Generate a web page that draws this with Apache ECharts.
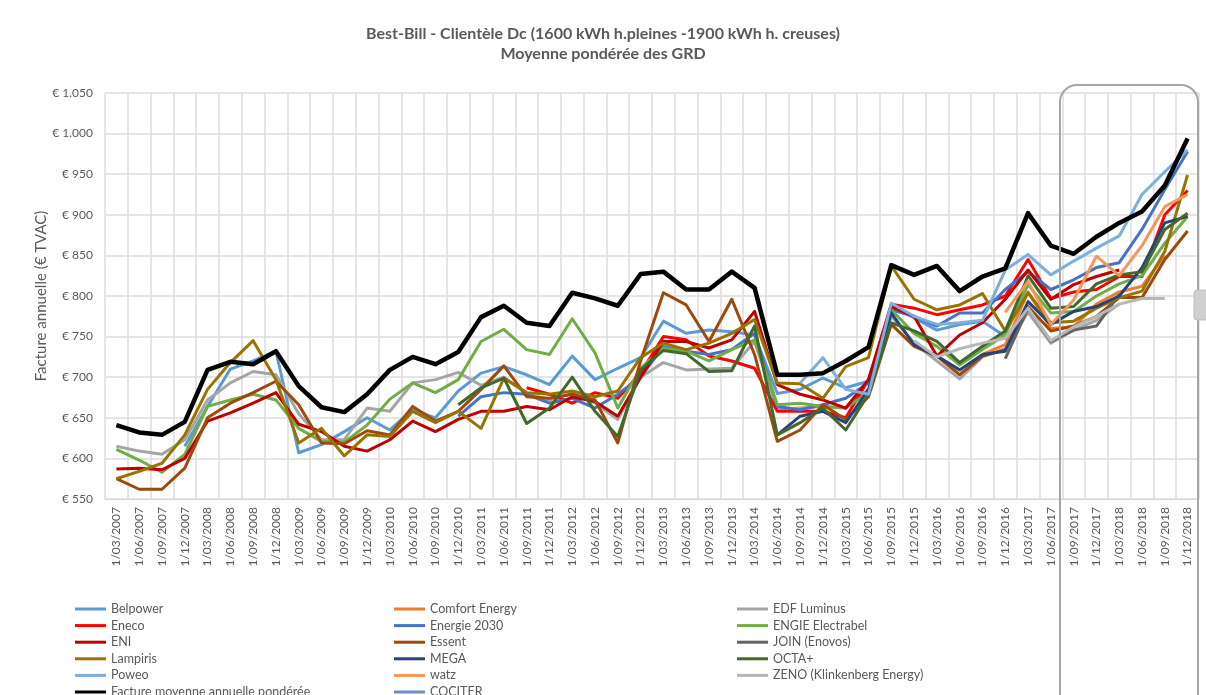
<!DOCTYPE html>
<html>
<head>
<meta charset="utf-8">
<script src="https://cdn.jsdelivr.net/npm/echarts@6/dist/echarts.min.js"></script>
<style>
html,body{margin:0;padding:0;background:#fff;}
#chart{width:1206px;height:695px;}
</style>
</head>
<body>
<div id="chart"></div>
<script>
const N = null;
const categories = [
 '1/03/2007','1/06/2007','1/09/2007','1/12/2007',
 '1/03/2008','1/06/2008','1/09/2008','1/12/2008',
 '1/03/2009','1/06/2009','1/09/2009','1/12/2009',
 '1/03/2010','1/06/2010','1/09/2010','1/12/2010',
 '1/03/2011','1/06/2011','1/09/2011','1/12/2011',
 '1/03/2012','1/06/2012','1/09/2012','1/12/2012',
 '1/03/2013','1/06/2013','1/09/2013','1/12/2013',
 '1/03/2014','1/06/2014','1/09/2014','1/12/2014',
 '1/03/2015','1/06/2015','1/09/2015','1/12/2015',
 '1/03/2016','1/06/2016','1/09/2016','1/12/2016',
 '1/03/2017','1/06/2017','1/09/2017','1/12/2017',
 '1/03/2018','1/06/2018','1/09/2018','1/12/2018'
];
const yTicks = [550, 600, 650, 700, 750, 800, 850, 900, 950, 1000, 1050];

const belpower = [N,N,N,615,664,710,720,732,607,617,633,650,635,660,650,683,705,713,703,691,726,697,711,724,769,754,758,756,752,680,685,699,687,695,789,773,758,765,769,750,N,N,N,N,N,N,N,N];
const comfortEnergy = [N,N,N,N,N,N,N,N,N,N,N,N,N,N,N,N,N,N,N,N,N,N,N,N,N,N,N,N,N,N,N,N,N,N,N,N,N,N,728,740,805,760,762,790,805,812,850,N];
const edfLuminus = [615,609,605,623,672,693,707,703,655,623,623,662,658,693,697,706,690,700,680,672,680,668,648,700,718,709,710,711,744,660,662,664,662,685,775,742,720,698,725,735,780,742,758,770,790,N,N,N];
const eneco = [N,N,N,N,N,N,N,N,N,N,N,N,N,N,N,N,N,N,687,679,668,681,674,705,750,746,726,720,711,658,658,658,650,697,790,785,777,783,789,800,845,797,805,808,824,824,900,930];
const energie2030 = [N,N,N,N,N,N,N,N,N,N,N,N,N,N,N,652,676,681,679,668,674,662,679,700,738,732,728,734,754,664,660,666,674,693,783,775,763,779,779,808,830,808,820,835,841,882,931,978];
const engie = [611,598,583,605,664,672,679,672,637,621,620,641,673,693,681,697,744,759,734,728,772,730,662,711,736,732,720,734,746,666,668,664,662,681,783,754,738,715,734,752,814,779,781,800,815,825,865,898];
const eni = [587,588,586,600,646,656,668,681,642,633,615,609,623,646,633,648,658,658,664,660,676,670,652,700,744,744,736,746,781,691,679,672,662,697,787,775,726,752,767,796,832,796,814,824,832,N,N,N];
const essent = [575,562,562,588,650,668,681,695,666,619,618,634,629,664,646,658,685,714,676,674,679,672,619,720,804,789,744,796,728,621,635,666,648,676,765,738,726,703,726,734,787,757,763,775,798,798,845,880];
const joinEnovos = [N,N,N,N,N,N,N,N,N,N,N,N,N,N,N,N,N,N,N,N,N,N,N,N,N,N,N,N,N,N,N,N,N,N,N,N,N,N,N,723,785,744,758,763,802,N,N,N];
const lampiris = [575,584,594,629,685,718,745,697,619,637,603,629,627,658,644,658,637,699,681,679,683,676,683,724,742,734,742,754,771,693,692,674,713,724,837,796,783,789,803,757,804,767,769,785,798,806,855,949];
const mega = [N,N,N,N,N,N,N,N,N,N,N,N,N,N,N,N,N,N,N,N,N,N,N,N,N,N,N,N,N,629,652,658,644,685,779,740,726,709,728,732,793,765,781,787,800,835,890,898];
const octa = [N,N,N,N,N,N,N,N,N,N,N,N,N,N,N,666,687,699,643,662,700,658,627,709,733,729,707,708,763,629,644,662,635,679,767,757,744,718,738,757,825,785,787,815,826,830,882,902];
const poweo = [N,N,N,N,N,N,N,N,N,N,N,N,N,N,N,N,N,N,N,N,N,N,N,N,N,N,N,N,N,N,693,724,685,679,791,775,765,767,770,832,851,826,843,859,874,925,953,980];
const watz = [N,N,N,N,N,N,N,N,N,N,N,N,N,N,N,N,N,N,N,N,N,N,N,N,N,N,N,N,N,N,N,N,N,N,N,N,N,N,N,780,818,765,795,849,825,862,910,925];
const zeno = [N,N,N,N,N,N,N,N,N,N,N,N,N,N,N,N,N,N,N,N,N,N,N,N,N,N,N,N,N,N,N,N,N,N,N,745,725,735,742,748,785,745,762,775,790,797,797,N];
const facture = [641,632,629,645,709,719,716,732,689,663,657,679,709,725,716,731,774,788,767,763,804,797,788,827,830,808,808,830,810,703,703,705,720,737,838,826,837,806,824,834,902,862,852,873,890,904,936,994];
const cociter = [N,N,N,N,N,N,N,N,N,N,N,N,N,N,N,N,N,N,N,N,N,N,N,N,N,N,N,N,N,N,N,N,N,N,N,N,N,N,N,N,N,N,N,N,N,N,N,N];

const seriesDefs = [
  ['Belpower', belpower, '#5B9BD5', 3],
  ['Comfort Energy', comfortEnergy, '#ED7D31', 3],
  ['EDF Luminus', edfLuminus, '#A5A5A5', 3],
  ['Eneco', eneco, '#FF0000', 3],
  ['Energie 2030', energie2030, '#4472C4', 3],
  ['ENGIE Electrabel', engie, '#70AD47', 3],
  ['ENI', eni, '#C00000', 3],
  ['Essent', essent, '#9E480E', 3],
  ['JOIN (Enovos)', joinEnovos, '#636363', 3],
  ['Lampiris', lampiris, '#997300', 3],
  ['MEGA', mega, '#264478', 3],
  ['OCTA+', octa, '#43682B', 3],
  ['Poweo', poweo, '#7CAFDD', 3],
  ['watz', watz, '#F1975A', 3],
  ['ZENO (Klinkenberg Energy)', zeno, '#B7B7B7', 3],
  ['Facture moyenne annuelle pondérée', facture, '#000000', 4.5],
  ['COCITER', cociter, '#698ED0', 3]
];

const col1 = ['Belpower','Eneco','ENI','Lampiris','Poweo','Facture moyenne annuelle pondérée'];
const col2 = ['Comfort Energy','Energie 2030','Essent','MEGA','watz','COCITER'];
const col3 = ['EDF Luminus','ENGIE Electrabel','JOIN (Enovos)','OCTA+','ZENO (Klinkenberg Energy)'];

const FONT = 'Lato, "Liberation Sans", sans-serif';
const TXT = '#595959';

function fmtEuro(v){
  const s = String(v);
  const t = s.length > 3 ? s.slice(0, s.length-3) + '.' + s.slice(-3) : s;
  return '€ ' + t;
}

function mkLegend(data, left){
  return {
    data: data, orient: 'vertical', left: left, top: 597, height: 140,
    icon: 'rect', itemWidth: 31, itemHeight: 3, itemGap: 2.6,
    textStyle: {color: TXT, fontSize: 12.5, fontFamily: FONT, lineHeight: 14},
    selectedMode: false
  };
}

const chart = echarts.init(document.getElementById('chart'), null, {renderer: 'canvas'});
chart.setOption({
  animation: false,
  backgroundColor: '#fff',
  title: {
    text: 'Best-Bill - Clientèle Dc (1600 kWh h.pleines -1900 kWh h. creuses)\nMoyenne pondérée des GRD',
    left: 'center', top: 19, padding: [5, 5, 5, 21],
    textStyle: {color: TXT, fontSize: 16, fontWeight: 'bold', fontFamily: FONT, lineHeight: 20}
  },
  legend: [mkLegend(col1, 70), mkLegend(col2, 389), mkLegend(col3, 732)],
  grid: {left: 105, right: 7, top: 93, bottom: 196, containLabel: false},
  xAxis: {
    type: 'category', data: categories, boundaryGap: true,
    axisLine: {lineStyle: {color: '#d9d9d9', width: 1}},
    axisTick: {show: false},
    axisLabel: {rotate: 90, interval: 0, color: TXT, fontSize: 12, fontFamily: FONT, margin: 8},
    splitLine: {show: true, interval: 0, lineStyle: {color: '#dcdcdc', width: 1.5}}
  },
  yAxis: {
    type: 'value', min: yTicks[0], max: yTicks[yTicks.length-1], interval: 50,
    name: 'Facture annuelle (€ TVAC)', nameLocation: 'middle', nameGap: 56, nameRotate: 90,
    nameMoveOverlap: false,
    nameTextStyle: {color: TXT, fontSize: 15, fontFamily: FONT},
    axisLine: {show: false}, axisTick: {show: false},
    axisLabel: {color: TXT, fontSize: 12, fontFamily: FONT, margin: 12, formatter: fmtEuro},
    splitLine: {lineStyle: {color: '#dcdcdc', width: 1.5}}
  },
  series: seriesDefs.map(d => ({
    name: d[0], type: 'line', data: d[1], showSymbol: false, symbol: 'none',
    connectNulls: false,
    lineStyle: {color: d[2], width: d[3], join: 'round'},
    itemStyle: {color: d[2]},
    z: d[0].startsWith('Facture') ? 5 : 2
  })),
  graphic: [
    {type: 'rect', shape: {x: 1060, y: 85, width: 138, height: 640, r: 17},
     style: {fill: 'none', stroke: '#a6a6a6', lineWidth: 2}, z: 100},
    {type: 'rect', shape: {x: 1194, y: 290, width: 14, height: 30, r: 3},
     style: {fill: '#d0d0d0', stroke: '#bdbdbd', lineWidth: 1}, z: 101}
  ]
});
</script>
</body>
</html>
